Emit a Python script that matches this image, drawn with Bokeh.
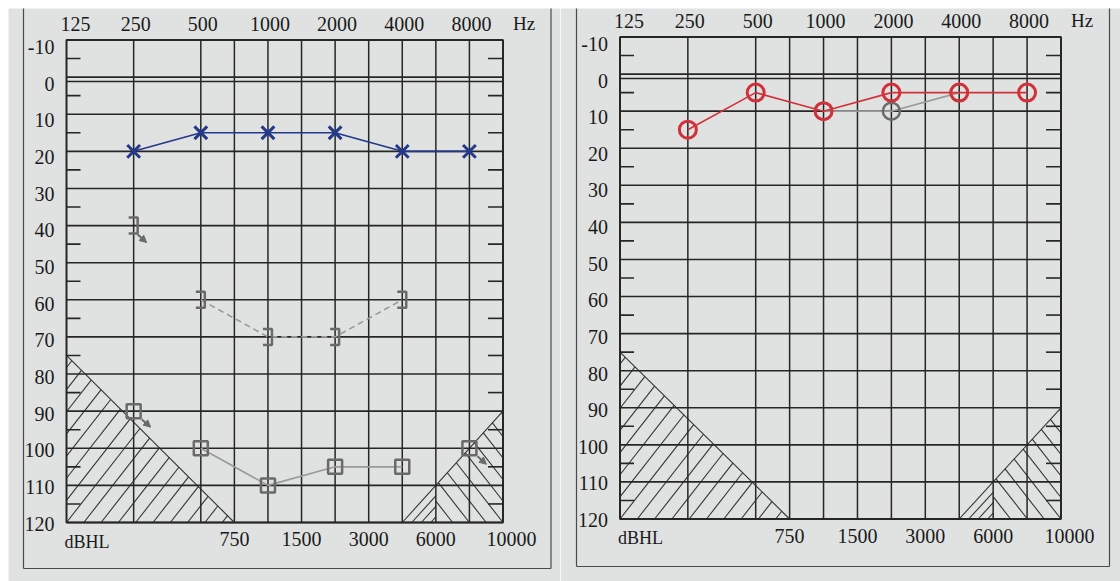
import math
from bokeh.plotting import figure
from bokeh.models import Range1d, Arrow, NormalHead
from bokeh.layouts import row
from bokeh.embed import file_html
from bokeh.resources import INLINE
from bokeh.core.properties import value

# ---------------- data ----------------
top_freq_labels = [125, 250, 500, 1000, 2000, 4000, 8000]
bottom_freq_labels = [750, 1500, 3000, 6000, 10000]
grid_freqs = [250, 500, 750, 1000, 1500, 2000, 3000, 4000, 6000, 8000]
db_ticks = list(range(-10, 121, 10))
minor_db_ticks = list(range(-5, 120, 10))

# left audiogram
left_ac_freq = [250, 500, 1000, 2000, 4000, 8000]
left_ac_db = [20, 15, 15, 15, 20, 20]
left_bc_freq = [250, 500, 1000, 2000, 4000]
left_bc_db = [40, 60, 70, 70, 60]
left_bc_noresp = [True, False, False, False, False]
left_mask_freq = [250, 500, 1000, 2000, 4000, 8000]
left_mask_db = [90, 100, 110, 105, 105, 100]
left_mask_noresp = [True, False, False, False, False, True]

# right audiogram
right_ac_freq = [250, 500, 1000, 2000, 4000, 8000]
right_ac_db = [15, 5, 10, 5, 5, 5]
right_gray_freq = [1000, 2000, 4000]
right_gray_db = [10, 10, 5]

# ---------------- style ----------------
PAPER = "#dfe2e1"
INK = "#262626"
TXT = "#1a1a1a"
BLUE = "#24398a"
RED = "#d3303a"
GRAY = "#6a6a6a"
LGRAY = "#9a9a9a"
FONT = value("'Liberation Serif', 'DejaVu Serif', serif")
W_TOTAL, H_TOTAL = 1120, 581


def fpos(f):
    """Position on the audiogram form: octave index from 125 Hz, half-octaves midway."""
    o = math.log2(f / 125.0)
    if abs(o - round(o)) < 1e-9:
        return float(round(o))
    return math.floor(o) + 0.5


def tri_hatch(W, H, d, theta, umax=None):
    c, s = math.cos(math.radians(theta)), math.sin(math.radians(theta))
    segs = []
    for j in range(-80, 80):
        b = j * d
        if b >= W:
            break
        if b >= 0:
            u0, v0 = b, 0.0
        else:
            v0 = -b * s / c
            if v0 >= H:
                continue
            u0 = 0.0
        t = (1 - b / W) / (c / W + s / H)
        u1, v1 = b + t * c, t * s
        if umax is not None:
            if u0 >= umax:
                continue
            if u1 > umax:
                t2 = (umax - b) / c
                u1, v1 = umax, t2 * s
        segs.append((u0, v0, u1, v1))
    return segs


def make_panel(geom):
    cx, cy, w, h = geom["canvas"]
    L, R, T, B = geom["plot"]
    kx = (R - L) / 6.5
    ky = (B - T) / 130.0
    X = lambda px: (px - L) / kx
    Y = lambda py: -10 + (py - T) / ky

    p = figure(width=w, height=h, x_range=Range1d(X(cx), X(cx + w)),
               y_range=Range1d(Y(cy + h), Y(cy)), output_backend="svg",
               toolbar_location=None, x_axis_location=None, y_axis_location=None,
               min_border=0, title=None)
    p.outline_line_color = None
    p.background_fill_color = "white"
    p.border_fill_color = "white"
    p.grid.grid_line_color = None

    # photographed paper (white strip at the top/left edge of the picture)
    p.quad(left=[X(max(cx, 8))], right=[X(cx + w + 2)], top=[Y(8)], bottom=[Y(cy + h + 2)],
           fill_color=PAPER, line_color=None)

    # hatched masking regions
    hx0, hy0, hx1, hy1 = [], [], [], []
    for u0, v0, u1, v1 in tri_hatch(2.5 * kx, 45 * ky, 17.3, 52):
        hx0.append(u0 / kx); hy0.append(120 - v0 / ky)
        hx1.append(u1 / kx); hy1.append(120 - v1 / ky)
    for u0, v0, u1, v1 in tri_hatch(1.5 * kx, 30 * ky, 16.8, 52, umax=1.0 * kx):
        hx0.append(6.5 - u0 / kx); hy0.append(120 - v0 / ky)
        hx1.append(6.5 - u1 / kx); hy1.append(120 - v1 / ky)
    for j in range(1, 4):
        dl = j * 9.5 / kx
        hx0.append(5 + dl); hy0.append(120)
        hx1.append(5.5); hy1.append(120 - 20 * (0.5 - dl))
    hx0 += [0, 5]; hy0 += [75, 120]; hx1 += [2.5, 6.5]; hy1 += [120, 90]
    p.segment(x0=hx0, y0=hy0, x1=hx1, y1=hy1, line_color="#333333", line_width=1.1)

    # grid
    gx = [fpos(f) for f in grid_freqs]
    p.segment(x0=gx, y0=[-10] * len(gx), x1=gx, y1=[120] * len(gx), line_color=INK, line_width=1.5)
    p.segment(x0=[0] * len(db_ticks), y0=db_ticks, x1=[6.5] * len(db_ticks), y1=db_ticks,
              line_color=INK, line_width=1.6)
    p.segment(x0=[0], y0=[4.4 / ky], x1=[6.5], y1=[4.4 / ky], line_color=INK, line_width=1.4)
    p.quad(left=[0], right=[6.5], top=[-10], bottom=[120], fill_color=None,
           line_color=INK, line_width=2)
    m = len(minor_db_ticks)
    p.segment(x0=[0] * m, y0=minor_db_ticks, x1=[14 / kx] * m, y1=minor_db_ticks,
              line_color=INK, line_width=1.6)
    p.segment(x0=[6.5 - 15 / kx] * m, y0=minor_db_ticks, x1=[6.5] * m, y1=minor_db_ticks,
              line_color=INK, line_width=1.6)

    # outer frame of the form
    fl, fr, fb = geom["frame"]
    p.segment(x0=[X(fl), X(fr), X(fl)], y0=[Y(8), Y(8), Y(fb)],
              x1=[X(fl), X(fr), X(fr)], y1=[Y(fb), Y(fb), Y(fb)],
              line_color="#4a4a4a", line_width=1.2)

    # labels
    n = len(db_ticks)
    p.text(x=[-12 / kx] * n, y=db_ticks, text=[str(v) for v in db_ticks],
           y_offset=[7 - 6 * i / (n - 1) for i in range(n)],
           text_font=FONT, text_font_size="20px", text_color=TXT,
           text_align="right", text_baseline="middle")
    tx = [fpos(f) for f in top_freq_labels]
    p.text(x=tx, y=[-10 - 16 / ky] * len(tx), text=[str(f) for f in top_freq_labels],
           x_offset=[9] + [2] * (len(tx) - 1),
           text_font=FONT, text_font_size="20px", text_color=TXT,
           text_align="center", text_baseline="middle")
    bx = [fpos(f) for f in bottom_freq_labels]
    p.text(x=bx, y=[120 + 16.5 / ky] * len(bx), text=[str(f) for f in bottom_freq_labels],
           x_offset=[0] * (len(bx) - 1) + [8.5],
           text_font=FONT, text_font_size="20px", text_color=TXT,
           text_align="center", text_baseline="middle")
    p.text(x=[-2 / kx], y=[120 + 19 / ky], text=["dBHL"], text_font=FONT,
           text_font_size="18px", text_color=TXT, text_align="left", text_baseline="middle")
    p.text(x=[6.5 + 21 / kx], y=[-10 - 17 / ky], text=["Hz"], text_font=FONT,
           text_font_size="19px", text_color=TXT, text_align="center", text_baseline="middle")
    return p, kx, ky


def nr_arrow(p, x, y, kx, ky, sx, sy, ex, ey):
    p.add_layout(Arrow(end=NormalHead(size=7, fill_color=GRAY, line_color=GRAY, line_width=1),
                       x_start=x + sx / kx, y_start=y + sy / ky,
                       x_end=x + ex / kx, y_end=y + ey / ky,
                       line_color=GRAY, line_width=2))


# ---------------- left panel ----------------
half = W_TOTAL // 2
p1, kx1, ky1 = make_panel(dict(canvas=(0, 0, half, H_TOTAL), plot=(66, 502.5, 39.5, 522),
                               frame=(23, 550.5, 568)))

# masked air conduction (squares)
mx = [fpos(f) for f, nr in zip(left_mask_freq, left_mask_noresp) if not nr]
my = [d for d, nr in zip(left_mask_db, left_mask_noresp) if not nr]
p1.line(mx, my, line_color=LGRAY, line_width=1.6)
p1.scatter([fpos(f) for f in left_mask_freq], left_mask_db, marker="square", size=14,
           fill_color=None, line_color=GRAY, line_width=2.5)
for f, d, nr in zip(left_mask_freq, left_mask_db, left_mask_noresp):
    if nr:
        nr_arrow(p1, fpos(f), d, kx1, ky1, 8, 8, 17, 16)

# masked bone conduction (brackets)
cx_ = [fpos(f) for f, nr in zip(left_bc_freq, left_bc_noresp) if not nr]
cy_ = [d for d, nr in zip(left_bc_db, left_bc_noresp) if not nr]
p1.line(cx_, cy_, line_color=LGRAY, line_width=1.6, line_dash="6 4")
bxs, bys = [], []
for f, d in zip(left_bc_freq, left_bc_db):
    x = fpos(f)
    bxs.append([x - 5 / kx1, x + 4 / kx1, x + 4 / kx1, x - 5 / kx1])
    bys.append([d - 8 / ky1, d - 8 / ky1, d + 8 / ky1, d + 8 / ky1])
p1.multi_line(bxs, bys, line_color=GRAY, line_width=2.5)
for f, d, nr in zip(left_bc_freq, left_bc_db, left_bc_noresp):
    if nr:
        nr_arrow(p1, fpos(f), d, kx1, ky1, 4, 9, 13, 17)

# air conduction (X)
ax_ = [fpos(f) for f in left_ac_freq]
p1.line(ax_, left_ac_db, line_color=BLUE, line_width=1.6)
p1.scatter(ax_, left_ac_db, marker="x", size=18, line_color=BLUE, line_width=3)

# ---------------- right panel ----------------
p2, kx2, ky2 = make_panel(dict(canvas=(half, 0, W_TOTAL - half, H_TOTAL),
                               plot=(619.5, 1060.5, 36.5, 518.5), frame=(576, 1109, 566)))
gx2 = [fpos(f) for f in right_gray_freq]
p2.line(gx2, right_gray_db, line_color=LGRAY, line_width=1.6)
p2.scatter(gx2, right_gray_db, marker="circle", size=17, fill_color=None,
           line_color=GRAY, line_width=2.5)
rx = [fpos(f) for f in right_ac_freq]
p2.line(rx, right_ac_db, line_color=RED, line_width=1.6)
p2.scatter(rx, right_ac_db, marker="circle", size=17, fill_color=None,
           line_color=RED, line_width=3)

layout = row(p1, p2, spacing=0)
open("out.html", "w").write(file_html(layout, INLINE))
